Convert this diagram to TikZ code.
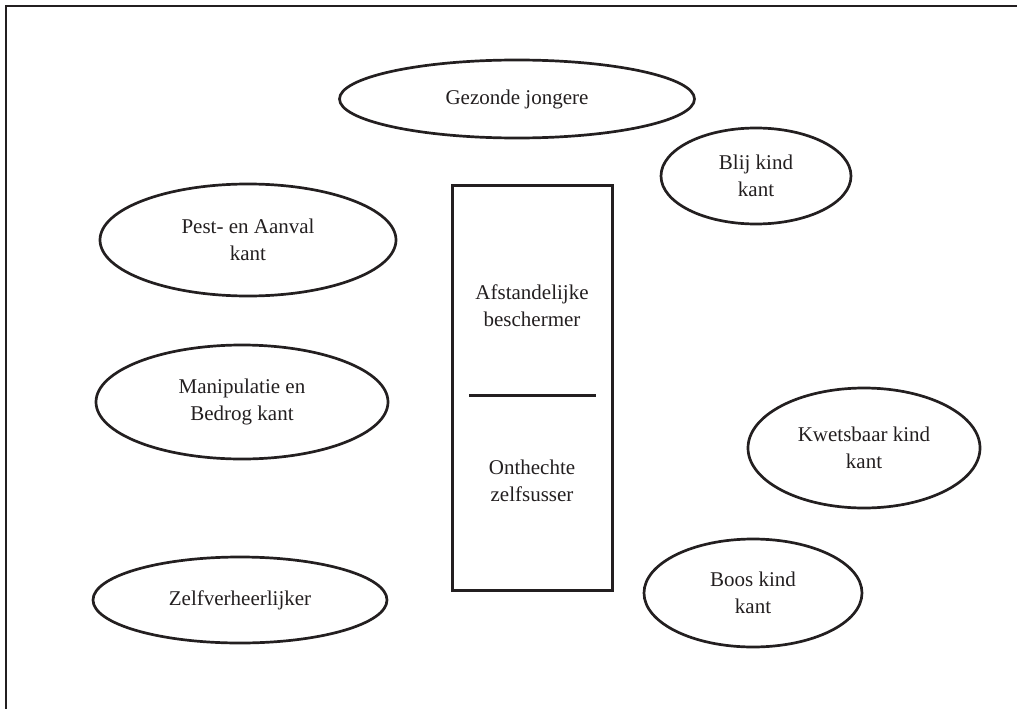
\documentclass[tikz,border=0pt]{standalone}
\usepackage{fontspec}
\setmainfont{Liberation Serif}
\usetikzlibrary{shapes.geometric}
\definecolor{ink}{HTML}{231F20}
\begin{document}
\begin{tikzpicture}[x=1pt,y=-1pt,
  part/.style={ellipse,draw=ink,line width=2.7pt,inner sep=0pt,
    align=center,text=ink,font=\fontsize{21}{27}\selectfont},
  label/.style={align=center,text=ink,font=\fontsize{21}{27}\selectfont},
  frame/.style={draw=ink,line width=2.4pt},
  column/.style={draw=ink,line width=2.4pt}]
\useasboundingbox (0,0) rectangle (1017,709);
% open frame: left and top edges
\draw[frame] (6,709) -- (6,6) -- (1017,6);

% central column with its two halves
\draw[column] (452.5,185.5) rectangle (612.5,590.5);
\coordinate (divL) at (469,395.5);
\coordinate (divR) at (596,395.5);
\draw[column] (divL) -- (divR);
\node[label] (afst) at (532,306) {Afstandelijke\\beschermer};
\node[label] (onth) at (532,481) {Onthechte\\zelfsusser};

% surrounding parts
\node[part,minimum width=355pt,minimum height=78pt] (gezond) at (517,99) {Gezonde jongere};
\node[part,minimum width=190pt,minimum height=96pt] (blij) at (756,176) {Blij kind\\kant};
\node[part,minimum width=296pt,minimum height=112pt] (pest) at (248,240) {Pest- en Aanval\\kant};
\node[part,minimum width=292pt,minimum height=114pt] (manip) at (242,402) {Manipulatie en\\Bedrog kant};
\node[part,minimum width=294pt,minimum height=86pt] (zelf) at (240,600) {Zelfverheerlijker};
\node[part,minimum width=232pt,minimum height=120pt] (kwets) at (864,448) {Kwetsbaar kind\\kant};
\node[part,minimum width=218pt,minimum height=108pt] (boos) at (753,593) {Boos kind\\kant};
\end{tikzpicture}
\end{document}
